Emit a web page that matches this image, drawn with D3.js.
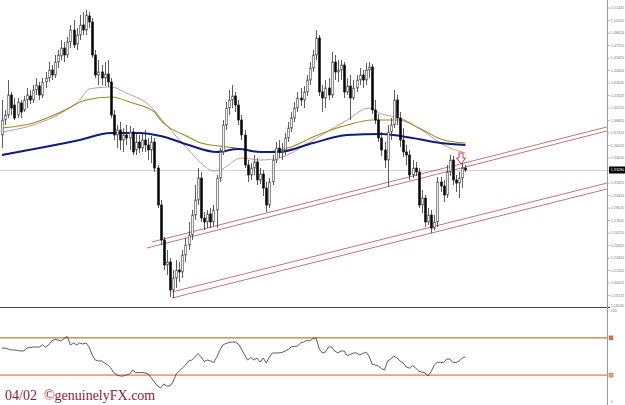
<!DOCTYPE html>
<html>
<head>
<meta charset="utf-8">
<script src="https://cdn.jsdelivr.net/npm/d3@7"></script>
<style>
  body { margin: 0; background: #fff; }
  svg { display: block; }
</style>
</head>
<body>
<svg id="chart" width="625" height="405"></svg>
<script>
// weekly bars, oldest first
var opens = [
  1.3720,1.3888,1.3944,1.4168,1.4056,1.3944,1.4078,1.4000,1.4112,1.4157,
  1.4112,1.4224,1.4269,1.4168,1.4314,1.4358,1.4448,1.4392,1.4538,1.4605,
  1.4694,1.4616,1.4762,1.4896,1.4739,1.4840,1.4952,1.4896,1.5053,1.4986,
  1.4616,1.4392,1.4426,1.4358,1.4403,1.4314,1.3944,1.3720,1.3776,1.3664,
  1.3720,1.3686,1.3754,1.3552,1.3642,1.3574,1.3664,1.3608,1.3552,1.3642,
  1.3350,1.2936,1.2544,1.2264,1.2298,1.1984,1.2118,1.2208,1.2186,1.2376,
  1.2488,1.2600,1.2824,1.2992,1.3238,1.2790,1.2746,1.2835,1.2746,1.2880,
  1.3238,1.3530,1.3832,1.4022,1.4112,1.4157,1.4056,1.3888,1.3720,1.3384,
  1.3272,1.3350,1.3418,1.3216,1.3283,1.3126,1.2936,1.3194,1.3440,1.3574,
  1.3530,1.3552,1.3686,1.3798,1.3910,1.4022,1.4134,1.4112,1.4202,1.4336,
  1.4470,1.4616,1.4806,1.4202,1.4134,1.4246,1.4168,1.4538,1.4426,1.4448,
  1.4504,1.4202,1.4269,1.4134,1.4246,1.4336,1.4392,1.4336,1.4448,1.4482,
  1.4000,1.3888,1.3686,1.3552,1.3440,1.3754,1.3832,1.4112,1.3910,1.3664,
  1.3530,1.3496,1.3272,1.3350,1.3306,1.2936,1.3014,1.2746,1.2824,1.2678,
  1.2746,1.3194,1.3149,1.3048,1.3306,1.3440,1.3216,1.3182,1.3238,1.3350
]
var highs = [
  1.4112,1.4000,1.4336,1.4202,1.4134,1.4134,1.4112,1.4157,1.4246,1.4224,
  1.4280,1.4358,1.4314,1.4358,1.4426,1.4538,1.4504,1.4616,1.4672,1.4784,
  1.4762,1.4818,1.4952,1.5008,1.4918,1.5064,1.5098,1.5120,1.5098,1.5030,
  1.4672,1.4560,1.4504,1.4538,1.4560,1.4358,1.4000,1.3832,1.3866,1.3798,
  1.3832,1.3821,1.3798,1.3754,1.3720,1.3742,1.3776,1.3686,1.3709,1.3686,
  1.3384,1.2992,1.2578,1.2432,1.2342,1.2208,1.2320,1.2298,1.2432,1.2566,
  1.2746,1.2880,1.3160,1.3350,1.3306,1.2858,1.2880,1.2902,1.2936,1.3272,
  1.3574,1.3888,1.4090,1.4224,1.4280,1.4202,1.4112,1.3944,1.3776,1.3440,
  1.3406,1.3496,1.3462,1.3350,1.3328,1.3194,1.3238,1.3496,1.3642,1.3664,
  1.3630,1.3742,1.3866,1.3978,1.4090,1.4202,1.4246,1.4269,1.4392,1.4538,
  1.4672,1.4896,1.4840,1.4280,1.4336,1.4358,1.4650,1.4616,1.4560,1.4560,
  1.4538,1.4358,1.4392,1.4336,1.4392,1.4470,1.4448,1.4526,1.4538,1.4515,
  1.4112,1.3955,1.3754,1.3642,1.3832,1.3910,1.4224,1.4168,1.3978,1.3798,
  1.3608,1.3552,1.3440,1.3418,1.3350,1.3104,1.3048,1.2902,1.2880,1.2824,
  1.3250,1.3250,1.3216,1.3384,1.3496,1.3485,1.3272,1.3306,1.3406,1.3384
]
var lows = [
  1.3574,1.3832,1.3910,1.3944,1.3888,1.3910,1.3910,1.3978,1.4022,1.4067,
  1.4078,1.4168,1.4112,1.4134,1.4246,1.4314,1.4336,1.4358,1.4470,1.4560,
  1.4538,1.4582,1.4694,1.4694,1.4672,1.4784,1.4840,1.4840,1.4918,1.4582,
  1.4358,1.4280,1.4280,1.4269,1.4258,1.3910,1.3664,1.3574,1.3552,1.3530,
  1.3608,1.3552,1.3496,1.3496,1.3518,1.3530,1.3530,1.3440,1.3406,1.3306,
  1.2902,1.2488,1.2208,1.2152,1.1906,1.1894,1.2006,1.2074,1.2118,1.2298,
  1.2432,1.2544,1.2768,1.2936,1.2746,1.2656,1.2678,1.2678,1.2701,1.2678,
  1.3194,1.3496,1.3776,1.3944,1.4022,1.3978,1.3832,1.3664,1.3350,1.3194,
  1.3216,1.3272,1.3160,1.3171,1.3037,1.2858,1.2902,1.3160,1.3406,1.3462,
  1.3440,1.3496,1.3642,1.3754,1.3866,1.3978,1.4045,1.4022,1.4157,1.4280,
  1.4426,1.4560,1.4157,1.3978,1.4022,1.4112,1.4134,1.4336,1.4314,1.4336,
  1.4134,1.4168,1.3888,1.4112,1.4202,1.4280,1.4246,1.4280,1.4358,1.3955,
  1.3843,1.3642,1.3485,1.3350,1.3138,1.3664,1.3798,1.3832,1.3586,1.3474,
  1.3384,1.3216,1.3238,1.3261,1.2902,1.2846,1.2690,1.2712,1.2622,1.2656,
  1.2690,1.3082,1.2970,1.3014,1.3261,1.3160,1.3082,1.3014,1.3126,1.3306
]
var closes = [
  1.3888,1.3944,1.4168,1.4022,1.3910,1.4090,1.3978,1.4112,1.4168,1.4112,
  1.4224,1.4280,1.4168,1.4314,1.4358,1.4448,1.4392,1.4538,1.4616,1.4694,
  1.4616,1.4762,1.4896,1.4728,1.4840,1.4952,1.4896,1.5064,1.4986,1.4616,
  1.4392,1.4426,1.4358,1.4403,1.4314,1.3944,1.3720,1.3776,1.3664,1.3720,
  1.3686,1.3754,1.3530,1.3642,1.3574,1.3664,1.3608,1.3552,1.3642,1.3350,
  1.2936,1.2544,1.2264,1.2298,1.1984,1.2118,1.2208,1.2186,1.2376,1.2488,
  1.2600,1.2824,1.2992,1.3238,1.2790,1.2746,1.2835,1.2746,1.2880,1.3238,
  1.3530,1.3832,1.4022,1.4112,1.4157,1.4056,1.3888,1.3720,1.3384,1.3272,
  1.3350,1.3418,1.3216,1.3283,1.3126,1.2936,1.3194,1.3440,1.3574,1.3530,
  1.3552,1.3686,1.3798,1.3910,1.4022,1.4134,1.4112,1.4202,1.4336,1.4470,
  1.4616,1.4806,1.4202,1.4134,1.4246,1.4168,1.4538,1.4426,1.4448,1.4504,
  1.4202,1.4269,1.4134,1.4246,1.4336,1.4392,1.4336,1.4448,1.4482,1.4000,
  1.3888,1.3686,1.3552,1.3440,1.3754,1.3832,1.4112,1.3910,1.3664,1.3530,
  1.3496,1.3272,1.3350,1.3306,1.2936,1.3014,1.2746,1.2824,1.2678,1.2746,
  1.3194,1.3149,1.3048,1.3306,1.3440,1.3216,1.3182,1.3238,1.3350,1.3328
]

// rsi under the price panel, one per bar
var rsi = [
  59.1,59,58,57,57,56.5,56,56,59,59.7,
  60.2,60.2,60.2,62.4,60.2,62.4,66.7,68.3,67.7,66.7,
  69.4,71.5,62.4,64.5,62.4,64.5,63.4,64.5,60.2,51.6,
  46.2,45.2,45.2,43,40.9,37.6,32.3,30.1,29,29,
  30.1,31.2,35.5,32.8,32.8,32.8,32.3,31.2,26.9,22.6,
  18.3,16.1,20.4,18.3,18.3,22.6,31.2,34.4,37.6,40.9,
  45.2,46.2,49.5,53.2,49.5,44.6,46.2,45.2,43.5,48.9,
  56.5,62.4,64,65,65.6,65.6,63.4,58.1,51.6,46.2,
  48.9,46.2,48.4,44.1,48.4,43,49.5,53.8,53.8,53.8,
  54.3,55.9,57.5,60.2,60.8,61.3,64.5,65.6,67.2,66.7,
  69.4,69.9,58.1,53.8,54.8,60.2,60.2,55.9,53.8,55.9,
  55.9,51.1,52.2,53.8,53.8,51.6,53.2,54.8,50.5,41.9,
  40.9,39.8,37.1,35.5,45.2,47.3,50.5,48.4,45.2,43,
  38.7,37.6,40.3,37.6,34.4,33.3,32.3,29,33.9,40.9,
  44.1,43.5,43.5,47.3,47.3,43.5,43.5,45.2,48.4,49.5
]
var rsiLevels = [70, 30]

// moving averages as [bar, price]
var maFast = [[0,1.3754],[10,1.3832],[19,1.3966],[25,1.4112],[28,1.4235],[35,1.4258],[40,1.4190],
  [48,1.4034],[52,1.3866],[60,1.3552],[64,1.3406],[68,1.3317],[70,1.3328],[77,1.3462],[83,1.3440],
  [89,1.3462],[100,1.3664],[111,1.3888],[118,1.4022],[122,1.3955],[128,1.3910],[134,1.3798],
  [142,1.3608],[149,1.3518]]
var maMid = [[0,1.3798],[10,1.3854],[19,1.3978],[27,1.4112],[35,1.4146],[42,1.4078],[49,1.3978],
  [51,1.3888],[60,1.3698],[64,1.3630],[75,1.3574],[83,1.3530],[93,1.3586],[100,1.3698],[111,1.3832],
  [119,1.3888],[128,1.3888],[134,1.3798],[142,1.3664],[149,1.3630]]
var maSlow = [[0,1.3496],[12,1.3574],[25,1.3664],[35,1.3742],[44,1.3742],[51,1.3709],[60,1.3608],
  [69,1.3530],[76,1.3563],[83,1.3530],[89,1.3530],[100,1.3630],[111,1.3720],[122,1.3731],
  [132,1.3686],[141,1.3630],[149,1.3608]]

// hand drawn channel lines, [bar, price] end points
var trendLines = [
  [[46.6,1.2454],[194.5,1.3765]],
  [[48.2,1.2522],[194.5,1.3810]],
  [[54.7,1.1962],[194.5,1.3182]],
  [[54.7,1.1894],[194.5,1.3115]]
]
var arrowAt = [147.6, 1.3395]

var priceTicks = ["1.51420","1.50020","1.48620","1.47220","1.45820","1.44420","1.43020","1.41620",
  "1.40220","1.38820","1.37420","1.36020","1.34620","1.33220","1.31820","1.30420","1.29020",
  "1.27620","1.26220","1.24820","1.23420","1.22020","1.20620","1.19220"]
var bottomPrice = "1.18030"
var lastPrice = "1.33280"

var svg = d3.select('#chart')
var W = 607, priceBottom = 307

var x = d3.scaleLinear().domain([0, 149]).range([2, 465.4])
var y = d3.scaleLinear().domain([1.17936, 1.5232]).range([priceBottom, 0])
var r = d3.scaleLinear().domain([0, 100]).range([403, 310])

svg.append('rect').attr('width', 625).attr('height', 405).attr('fill', '#fff')

// current price line
svg.append('line')
  .attr('x1', 0).attr('x2', W)
  .attr('y1', Math.round(y(+lastPrice)) + 0.5).attr('y2', Math.round(y(+lastPrice)) + 0.5)
  .attr('stroke', '#d4d4d4').attr('stroke-width', 1)

var plot = svg.append('g')

// moving averages
var maLine = d3.line().x(d => x(d[0])).y(d => y(d[1])).curve(d3.curveMonotoneX)
plot.append('path').attr('d', maLine(maFast)).attr('fill', 'none').attr('stroke', '#c39a9a').attr('stroke-width', 1)
plot.append('path').attr('d', maLine(maMid)).attr('fill', 'none').attr('stroke', '#9a8a1e').attr('stroke-width', 1.1)
plot.append('path').attr('d', maLine(maSlow)).attr('fill', 'none').attr('stroke', '#101d7a').attr('stroke-width', 2)

// trend lines
plot.selectAll('.trend')
  .data(trendLines)
  .join('line')
  .attr('class', 'trend')
  .attr('x1', d => x(d[0][0])).attr('y1', d => y(d[0][1]))
  .attr('x2', d => x(d[1][0])).attr('y2', d => y(d[1][1]))
  .attr('stroke', '#b5676a').attr('stroke-width', 0.9)

// candles
var bars = d3.range(closes.length)
var candle = plot.selectAll('.candle')
  .data(bars)
  .join('g')
  .attr('class', 'candle')

candle.append('line')
  .attr('x1', i => Math.round(x(i)) + 0.5).attr('x2', i => Math.round(x(i)) + 0.5)
  .attr('y1', i => y(highs[i])).attr('y2', i => y(lows[i]))
  .attr('stroke', '#333').attr('stroke-width', 0.8)

candle.append('rect')
  .attr('x', i => Math.round(x(i)) - 0.3)
  .attr('width', 1.6)
  .attr('y', i => y(Math.max(opens[i], closes[i])))
  .attr('height', i => Math.max(0.8, Math.abs(y(opens[i]) - y(closes[i]))))
  .attr('fill', i => closes[i] >= opens[i] ? '#fff' : '#000')
  .attr('stroke', i => closes[i] >= opens[i] ? '#555' : '#000').attr('stroke-width', 0.7)

// arrow marker over the last bars
var ax = x(arrowAt[0]), ay = y(arrowAt[1])
plot.append('path')
  .attr('d', `M${ax - 2},${ay - 11} L${ax + 2},${ay - 11} L${ax + 2},${ay - 6} L${ax + 4.5},${ay - 6} L${ax},${ay} L${ax - 4.5},${ay - 6} L${ax - 2},${ay - 6} Z`)
  .attr('fill', '#fff').attr('stroke', '#d23a3a').attr('stroke-width', 1)

// separator between panels
svg.append('line')
  .attr('x1', 0).attr('x2', W + 3)
  .attr('y1', priceBottom + 0.5).attr('y2', priceBottom + 0.5)
  .attr('stroke', '#444').attr('stroke-width', 1)

// right axis
svg.append('line')
  .attr('x1', W + 0.5).attr('x2', W + 0.5).attr('y1', 0).attr('y2', 405)
  .attr('stroke', '#999').attr('stroke-width', 1)

var labelX = W + 3.8
var axisFont = 'Liberation Sans, Arial, sans-serif', axisSize = 3.7
var axis = svg.append('g').attr('font-family', axisFont).attr('font-size', axisSize).attr('fill', '#7a7a7a')

function label(g, txt, yy, dy) {
  return g.append('text')
    .attr('x', labelX).attr('y', yy).attr('dy', dy)
    .text(txt)
}

axis.selectAll('.tick')
  .data(priceTicks)
  .join('g')
  .attr('class', 'tick')
  .attr('transform', d => `translate(0,${y(+d)})`)
  .each(function(d) {
    var g = d3.select(this)
    g.append('line').attr('x1', W).attr('x2', W + 3).attr('stroke', '#999').attr('stroke-width', 0.7)
    label(g, d, 0, '0.35em')
  })

label(axis, bottomPrice, y(+bottomPrice), '0.35em')

// current price box
svg.append('rect')
  .attr('x', W + 2).attr('y', y(+lastPrice) - 3.5)
  .attr('width', 625 - W - 2).attr('height', 7)
  .attr('fill', '#000')
label(svg.append('g').attr('font-family', axisFont).attr('font-size', axisSize).attr('fill', '#fff'),
  lastPrice, y(+lastPrice), '0.35em')

// rsi panel
var levelColors = ['#c8773e', '#f0a070']
svg.selectAll('.level')
  .data(rsiLevels)
  .join('line')
  .attr('class', 'level')
  .attr('x1', 0).attr('x2', W)
  .attr('y1', d => r(d)).attr('y2', d => r(d))
  .attr('stroke', (d, i) => levelColors[i]).attr('stroke-width', (d, i) => i ? 1.6 : 1.2)

svg.selectAll('.levelMark')
  .data(rsiLevels)
  .join('rect')
  .attr('class', 'levelMark')
  .attr('x', W + 2).attr('y', d => r(d) - 2)
  .attr('width', 4).attr('height', 4)
  .attr('fill', (d, i) => levelColors[i]).attr('stroke', '#b8612a').attr('stroke-width', 0.5)

var rsiLine = d3.line().x((d, i) => x(i)).y(d => r(d))
svg.append('path').attr('d', rsiLine(rsi))
  .attr('fill', 'none').attr('stroke', '#4a4a4a').attr('stroke-width', 0.9)

label(axis, '100', r(100), '0.6em')
label(axis, '0', r(0), '0em')

// watermark
svg.append('text')
  .attr('x', 5).attr('y', 400)
  .attr('font-family', 'Liberation Serif, serif').attr('font-size', 14)
  .attr('fill', '#8b1a3c')
  .attr('xml:space', 'preserve')
  .text('04/02  \u00a9genuinelyFX.com')
</script>
</body>
</html>
